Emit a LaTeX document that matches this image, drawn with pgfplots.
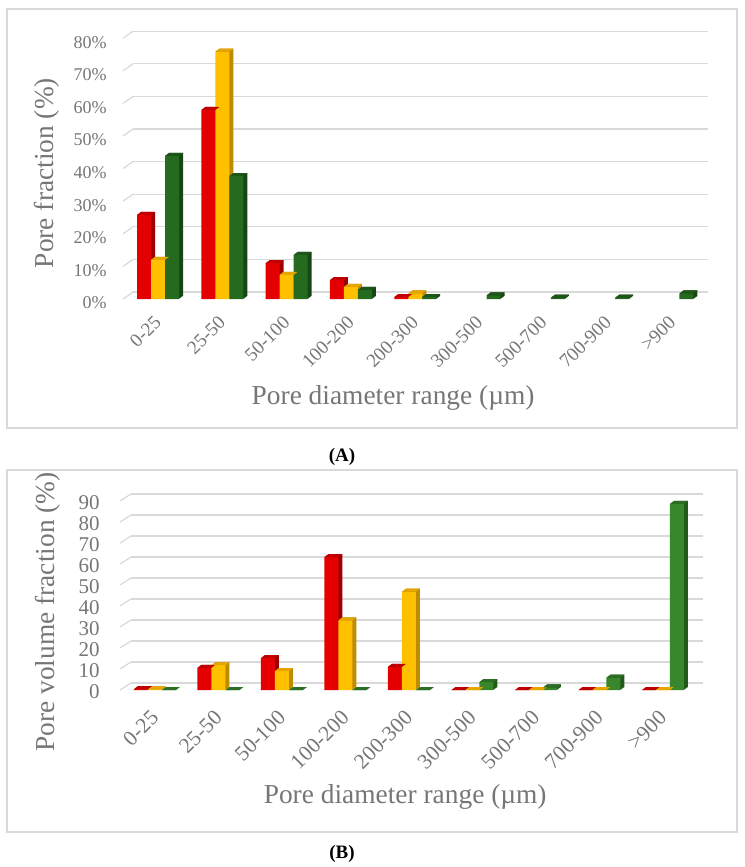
\documentclass[border=0pt]{standalone}
\usepackage{pgfplots}
\pgfplotsset{compat=1.18}
\usepackage{pgfplotstable}
\usepackage{fontspec}
\setmainfont{Liberation Serif}

\definecolor{redF}{RGB}{228,0,0}
\definecolor{redS}{RGB}{158,0,0}
\definecolor{redT}{RGB}{192,0,0}
\definecolor{yelF}{RGB}{255,192,0}
\definecolor{yelS}{RGB}{190,140,0}
\definecolor{yelT}{RGB}{228,165,0}
\definecolor{grnAF}{RGB}{38,106,31}
\definecolor{grnAS}{RGB}{22,70,17}
\definecolor{grnAT}{RGB}{29,86,24}
\definecolor{grnBF}{RGB}{56,135,44}
\definecolor{grnBS}{RGB}{34,90,26}
\definecolor{grnBT}{RGB}{44,110,35}
\definecolor{gridgray}{RGB}{217,217,217}
\definecolor{framegray}{RGB}{217,217,217}
\definecolor{txtgray}{RGB}{118,118,118}

\pgfdeclareplotmark{topface}{%
  \pgfpathmoveto{\pgfqpoint{-3.5pt}{0pt}}%
  \pgfpathlineto{\pgfqpoint{3.5pt}{0pt}}%
  \pgfpathlineto{\pgfqpoint{5.5pt}{1.5pt}}%
  \pgfpathlineto{\pgfqpoint{-1.5pt}{1.5pt}}%
  \pgfpathclose\pgfusepathqfill}

% #1 table, #2 column, #3 offset, #4 front, #5 side, #6 top
\newcommand{\barseries}[6]{%
  \pgfplotsinvokeforeach{1,...,6}{%
    \addplot[ybar, bar width=7pt, bar shift=0pt, draw=none, fill=#5,
      xshift=##1*0.3333pt, yshift=##1*0.25pt]
      table[x expr=\thisrow{i}+(#3), y=#2]{#1};}
  \addplot[only marks, mark=topface, color=#6, mark options={fill=#6, draw=none}]
    table[x expr=\thisrow{i}+(#3), y=#2]{#1};
  \addplot[ybar, bar width=7pt, bar shift=0pt, draw=none, fill=#4]
    table[x expr=\thisrow{i}+(#3), y=#2]{#1};
}

\pgfplotstableread{
i r y g
0 25.8 12.0 43.9
1 58.0 75.9 37.7
2 11.0 7.4 13.5
3 5.8 3.7 2.8
4 0.6 1.7 0.6
5 nan nan 1.1
6 nan nan 0.4
7 nan nan 0.4
8 nan nan 1.7
}\dataA

\pgfplotstableread{
i r y g
0 0.4 0.3 0
1 10.6 11.8 0
2 15.2 9.0 0
3 63.3 33.2 0
4 11.0 46.8 0
5 0 0 3.8
6 0 0 1.2
7 0 0 5.9
8 0 0 88.6
}\dataB

\pgfplotsset{
  wallaxis/.style={anchor=south west, enlargelimits=false, xtick=\empty,
    yticklabels={}, ymajorgrids, major grid style={draw=gridgray, line width=0.6pt},
    axis line style={draw=none}, major tick length=0pt, clip=false},
  frontaxis/.style={anchor=south west, enlargelimits=false, clip=false,
    axis line style={draw=none}, major tick length=0pt,
    xtick={0,...,8},
    xticklabels={0-25,25-50,50-100,100-200,200-300,300-500,500-700,700-900,>900},
    xticklabel style={rotate=45, anchor=east, inner sep=0pt, text=txtgray},
    yticklabel style={anchor=east, inner sep=0pt, text=txtgray},
    xlabel={Pore diameter range (µm)},
    label style={font=\fontsize{13.7}{16}\selectfont, text=txtgray}},
}

\begin{document}
\begin{tikzpicture}
\useasboundingbox (0,0) rectangle (372pt,-433.5pt);
\draw[framegray, line width=0.75pt] (3.5pt,-4.5pt) rectangle (368.5pt,-214pt);
\draw[framegray, line width=0.75pt] (3.5pt,-235pt) rectangle (368.5pt,-416pt);
\node[font=\fontsize{9.5}{11}\selectfont\bfseries] at (171pt,-228.5pt) {(A)};
\node[font=\fontsize{9.5}{11}\selectfont\bfseries] at (171pt,-427pt) {(B)};

% ---------- Panel A ----------
\begin{axis}[wallaxis, at={(66.5pt,-146pt)}, x=32.15pt, y=1.63pt,
  xmin=-0.545, xmax=8.4, ymin=0, ymax=80, ytick={0,10,...,80}]
\pgfplotsinvokeforeach{0,10,...,80}{\draw[gridgray, line width=0.6pt] (axis cs:-0.545,#1) -- ++(-5pt,-3.5pt);}
\end{axis}
\begin{axis}[frontaxis, at={(61.5pt,-149.5pt)}, x=32.15pt, y=1.63pt,
  xmin=-0.545, xmax=8.4, ymin=0, ymax=80,
  ytick={0,10,...,80},
  yticklabels={0\%,10\%,20\%,30\%,40\%,50\%,60\%,70\%,80\%},
  yticklabel style={font=\fontsize{9}{10}\selectfont, xshift=-8pt, yshift=-2pt},
  xticklabel style={font=\fontsize{9.6}{11}\selectfont},
  xticklabel shift=10pt,
  ylabel={Pore fraction (\%)},
  ylabel style={at={(axis description cs:-0.132,0.483)}, anchor=center},
  xlabel style={at={(axis description cs:0.4696,-0.38)}, anchor=center}]
\barseries{\dataA}{r}{-0.2177}{redF}{redS}{redT}
\barseries{\dataA}{y}{0}{yelF}{yelS}{yelT}
\barseries{\dataA}{g}{0.2177}{grnAF}{grnAS}{grnAT}
\end{axis}

% ---------- Panel B ----------
\begin{axis}[wallaxis, at={(65.5pt,-341.5pt)}, x=31.75pt, y=1.05pt,
  xmin=-0.55, xmax=8.45, ymin=0, ymax=90, ytick={0,10,...,90}]
\pgfplotsinvokeforeach{0,10,...,90}{\draw[gridgray, line width=0.6pt] (axis cs:-0.55,#1) -- ++(-5.5pt,-3.5pt);}
\end{axis}
\begin{axis}[frontaxis, at={(60pt,-345pt)}, x=31.75pt, y=1.05pt,
  xmin=-0.55, xmax=8.45, ymin=0, ymax=90,
  ytick={0,10,...,90},
  yticklabels={0,10,20,30,40,50,60,70,80,90},
  yticklabel style={font=\fontsize{10.5}{11}\selectfont, xshift=-10pt, yshift=-1pt},
  xticklabel style={font=\fontsize{10.8}{12}\selectfont},
  xticklabel shift=12pt,
  ylabel={Pore volume fraction (\%)},
  ylabel style={at={(axis description cs:-0.126,0.413)}, anchor=center},
  xlabel style={at={(axis description cs:0.499,-0.566)}, anchor=center}]
\barseries{\dataB}{r}{-0.2205}{redF}{redS}{redT}
\barseries{\dataB}{y}{0}{yelF}{yelS}{yelT}
\barseries{\dataB}{g}{0.2205}{grnBF}{grnBS}{grnBT}
\end{axis}
\end{tikzpicture}
\end{document}
